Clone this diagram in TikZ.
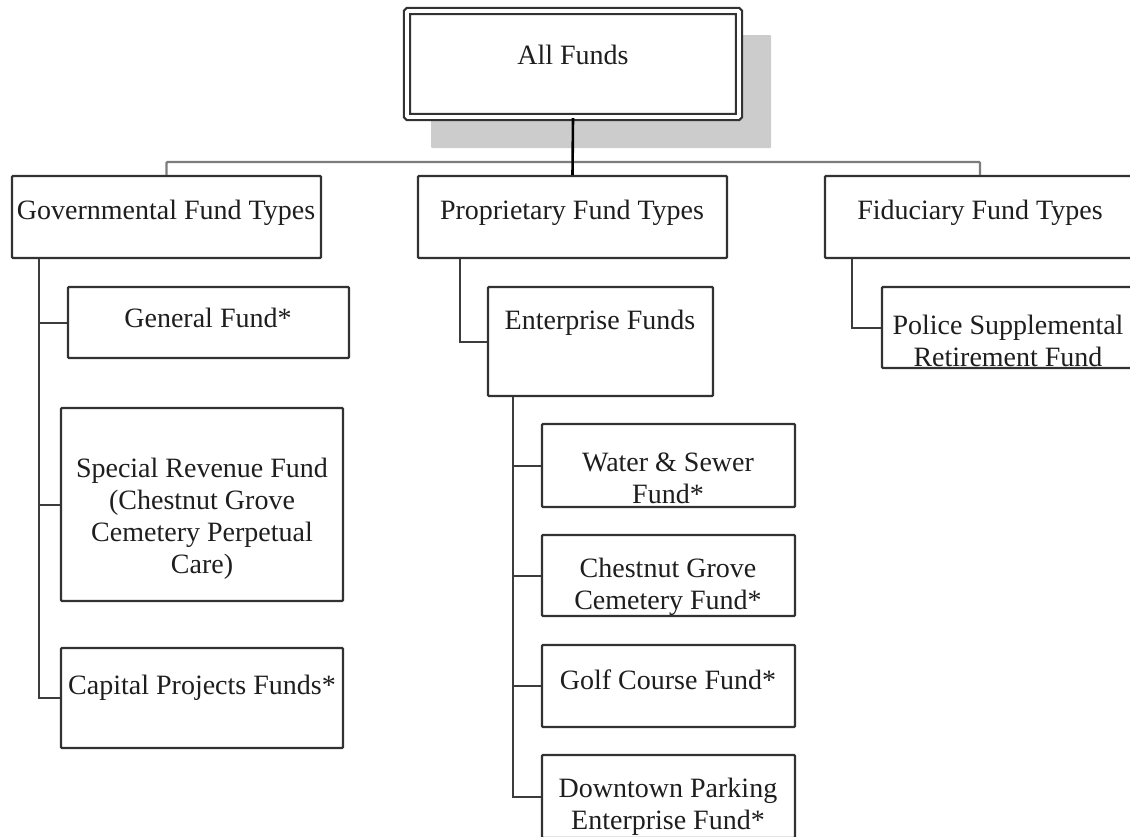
\documentclass[tikz,border=0pt]{standalone}
\usepackage{fontspec}
\setmainfont{Liberation Serif}
\usetikzlibrary{calc}
\definecolor{boxline}{RGB}{50,50,50}
\definecolor{connline}{RGB}{60,60,60}
\definecolor{busline}{RGB}{125,125,125}
\definecolor{shadowgray}{RGB}{204,204,204}
\definecolor{txtcol}{RGB}{30,30,30}
\newcommand\fundboxat[5]{\node[fundbox, minimum width={#4-#2}, minimum height={#5-#3}] (#1) at ({(#2+#4)/2},{(#3+#5)/2}) {};}
\begin{document}
\begin{tikzpicture}[x=1pt,y=-1pt,
  fundbox/.style={draw=boxline, line width=2.4pt, fill=white, inner sep=0pt, rounded corners=1pt},
  lbl/.style={font=\fontsize{28}{32}\selectfont, text=txtcol, align=center, inner sep=0pt},
  connector/.style={draw=connline, line width=2pt},
  busconn/.style={draw=busline, line width=2.4pt}]
\useasboundingbox (0,0) rectangle (1130,836);
\clip (0,0) rectangle (1130,836);
\fill[white] (0,0) rectangle (1130,836);
% shadow of the top box
\fill[shadowgray, rounded corners=1pt] (431,35) rectangle (771,148);
% top box
\node[fundbox, double=white, double distance=3.8pt, line width=2.2pt, minimum width=332, minimum height=106] (all) at (573,64) {};
% boxes
\fundboxat{gov}{12}{176}{321}{258}
\fundboxat{prop}{418}{176}{727}{258}
\fundboxat{fid}{825}{176}{1135}{258}
\fundboxat{gen}{68}{287}{349}{358}
\fundboxat{spec}{61}{408}{343}{601}
\fundboxat{cap}{61}{648}{343}{748}
\fundboxat{ent}{488}{287}{713}{396}
\fundboxat{police}{882}{287}{1135}{368}
\fundboxat{water}{542}{424}{795}{507}
\fundboxat{chest}{542}{535}{795}{616}
\fundboxat{golf}{542}{645}{795}{727}
\fundboxat{down}{542}{755}{795}{838}
% connectors
\coordinate (busy) at (573,162);
\draw[busconn, rounded corners=1pt] (gov.north) -- (gov.north |- busy) -- (fid.north |- busy) -- (fid.north);
\draw[connector, draw=black, line width=2.6pt] (all.south) -- (prop.north);
\coordinate (gtrunk) at ($(gov.south west)+(28,0)$);
\draw[connector] (gtrunk) |- (gen.west);
\draw[connector] (gtrunk) |- (spec.west);
\draw[connector] (gtrunk) |- (cap.west);
\coordinate (ptrunk) at ($(prop.south west)+(43,0)$);
\draw[connector] (ptrunk) |- (ent.west);
\coordinate (etrunk) at ($(ent.south west)+(26,0)$);
\draw[connector] (etrunk) |- (water.west);
\draw[connector] (etrunk) |- (chest.west);
\draw[connector] (etrunk) |- (golf.west);
\draw[connector] (etrunk) |- (down.west);
\coordinate (ftrunk) at ($(fid.south west)+(28,0)$);
\draw[connector] (ftrunk) |- (police.west);
% texts
\node[lbl] (t-all) at (573,55) {All Funds};
\node[lbl] (t-gov) at (166,213) {Governmental Fund Types};
\node[lbl] (t-prop) at (572,213) {Proprietary Fund Types};
\node[lbl] (t-fid) at (980,213) {Fiduciary Fund Types};
\node[lbl] (t-gen) at (208,318) {General Fund*};
\node[lbl] (t-spec) at (202,519) {Special Revenue Fund\\(Chestnut Grove\\Cemetery Perpetual\\Care)};
\node[lbl] (t-cap) at (202,688) {Capital Projects Funds*};
\node[lbl] (t-ent) at (600,323) {Enterprise Funds};
\node[lbl] (t-police) at (1008,341) {Police Supplemental\\Retirement Fund};
\node[lbl] (t-water) at (668,478) {Water \& Sewer\\Fund*};
\node[lbl] (t-chest) at (668,587) {Chestnut Grove\\Cemetery Fund*};
\node[lbl] (t-golf) at (668,680) {Golf Course Fund*};
\node[lbl] (t-down) at (668,807) {Downtown Parking\\Enterprise Fund*};
\end{tikzpicture}
\end{document}
